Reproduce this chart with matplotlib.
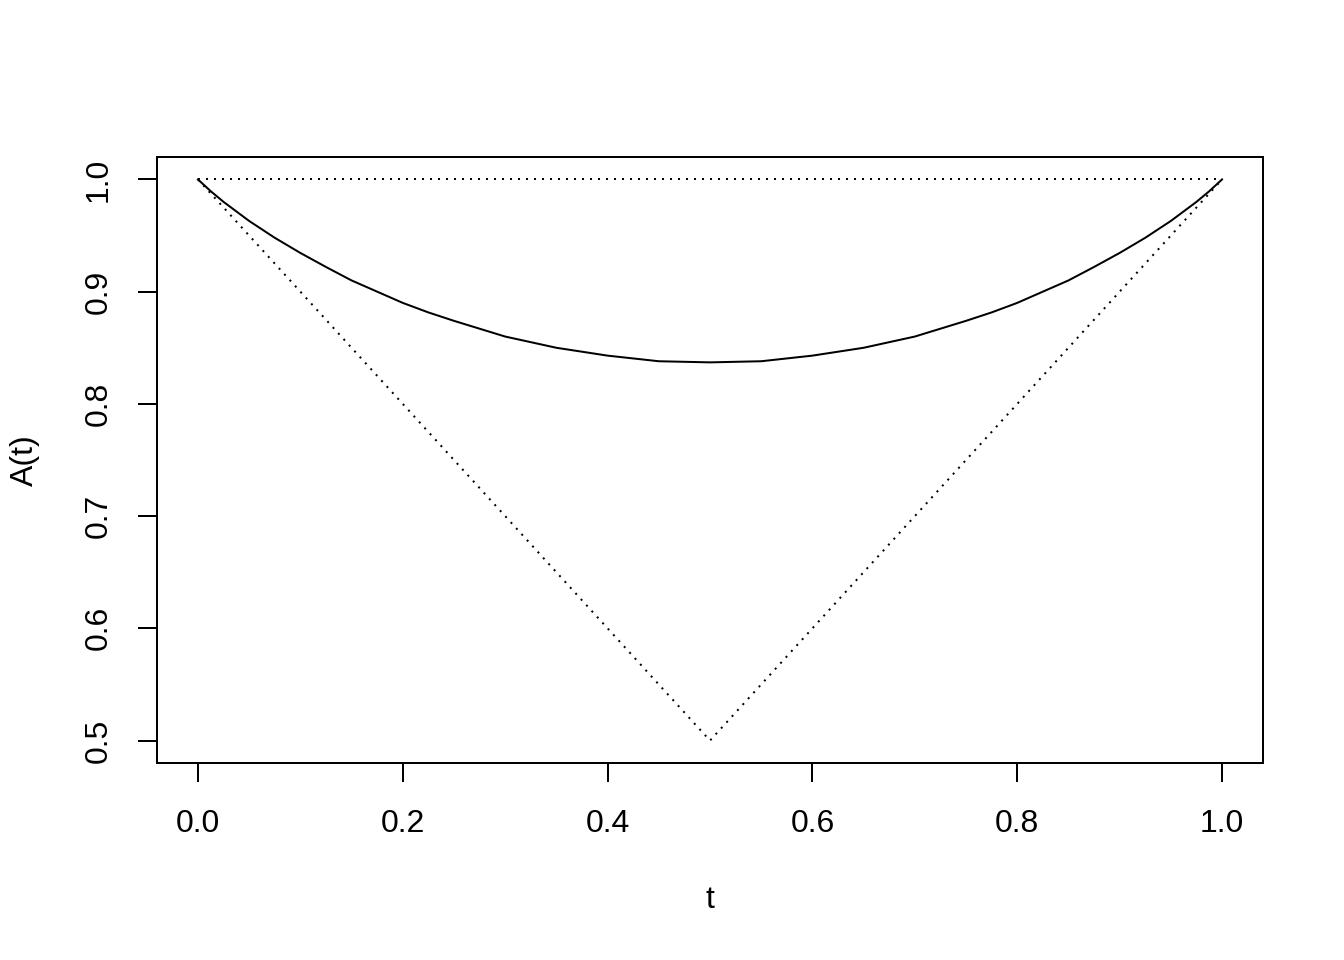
import numpy as np
import matplotlib as mpl
import matplotlib.pyplot as plt

mpl.rcParams['font.family'] = ['Liberation Sans', 'DejaVu Sans']

# curve
t_vals = [0.0, 0.0125, 0.025, 0.05, 0.075, 0.1, 0.125, 0.15, 0.175, 0.2, 0.225, 0.25,
          0.3, 0.35, 0.4, 0.45, 0.5, 0.55, 0.6, 0.65, 0.7, 0.75, 0.775, 0.8,
          0.825, 0.85, 0.875, 0.9, 0.925, 0.95, 0.975, 0.9875, 1.0]
a_vals = [1.0, 0.9895, 0.980, 0.963, 0.948, 0.9345, 0.922, 0.910, 0.900, 0.890, 0.8815, 0.874,
          0.860, 0.850, 0.843, 0.838, 0.837, 0.838, 0.843, 0.850, 0.860, 0.874, 0.8815, 0.890,
          0.900, 0.910, 0.922, 0.9345, 0.948, 0.963, 0.980, 0.9895, 1.0]

# bounds
upper_t = [0.0, 1.0]
upper_a = [1.0, 1.0]
lower_t = [0.0, 0.5, 1.0]
lower_a = [1.0, 0.5, 1.0]

fig = plt.figure(figsize=(7, 5), dpi=192)
ax = fig.add_axes([157/1344, 1-763/960, (1263-157)/1344, (763-157)/960])

lw = 0.75
ax.plot(t_vals, a_vals, color='black', lw=lw)
ax.plot(upper_t, upper_a, color='black', lw=lw, linestyle=(0, (1, 3)))
ax.plot(lower_t, lower_a, color='black', lw=lw, linestyle=(0, (1, 3)))

ax.set_xlim(-0.04, 1.04)
ax.set_ylim(0.48, 1.02)
ax.set_xticks([0.0, 0.2, 0.4, 0.6, 0.8, 1.0])
ax.set_yticks([0.5, 0.6, 0.7, 0.8, 0.9, 1.0])
ax.set_xticklabels(['0.0', '0.2', '0.4', '0.6', '0.8', '1.0'])
ax.set_yticklabels(['0.5', '0.6', '0.7', '0.8', '0.9', '1.0'], rotation=90, va='center')
ax.tick_params(direction='out', length=7.2, width=lw, labelsize=12)
ax.tick_params(axis='x', pad=10)
ax.tick_params(axis='y', pad=9)
for s in ax.spines.values():
    s.set_visible(False)
# R-style box
ax.patch.set_edgecolor('black')
ax.patch.set_linewidth(lw)

fig.text(710/1344, 1-900/960, 't', fontsize=12, ha='center', va='center')
fig.text(25/1344, 1-460/960, 'A(t)', fontsize=12, ha='center', va='center', rotation=90)

fig.savefig('out.png', dpi=192)
